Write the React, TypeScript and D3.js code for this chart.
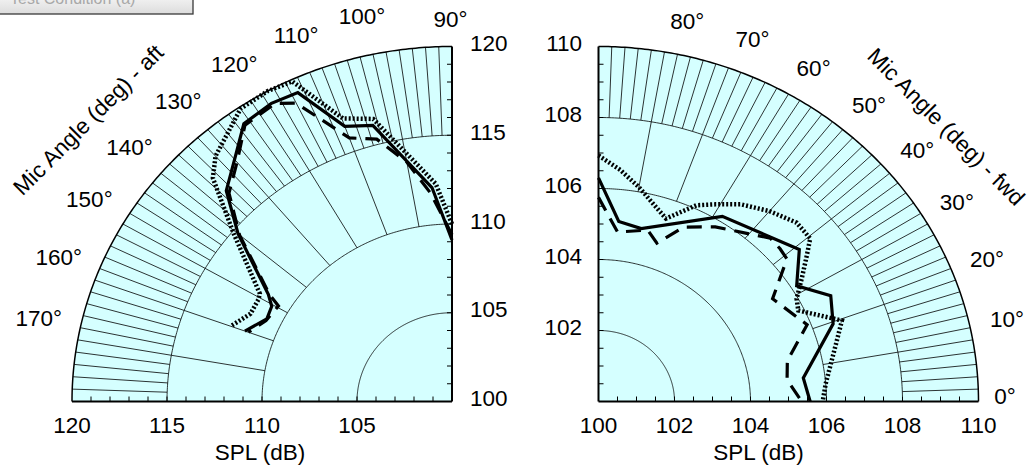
import React from "react";
import * as d3 from "d3";

// ---------------- data ----------------
// Aft quadrant (90°..180°), SPL in dB
const aftSolidAngle = [90, 95, 105, 110, 115, 119.5, 125, 130, 135, 140, 148, 150.5, 154.5, 160];
const aftSolidSPL = [109.1, 112.1, 116.1, 116.5, 119.2, 119.3, 119.1, 117.8, 116.8, 114.7, 111.4, 110.9, 110.8, 111.6];

const aftDashAngle = [90, 95.5, 100, 105, 110, 116, 119, 125, 130, 135, 140, 148, 149.5, 155, 160];
const aftDashSPL = [109.4, 111.8, 113.7, 115.3, 115.8, 118.7, 119.2, 119.0, 117.6, 116.6, 114.6, 111.3, 110.6, 110.8, 111.4];

const aftDotAngle = [90, 94, 104.6, 109.8, 115, 119, 124, 132, 135, 140.5, 149, 150.5, 155, 160];
const aftDotSPL = [110.0, 112.3, 116.45, 116.95, 119.9, 120.0, 119.9, 118.6, 117.8, 114.9, 111.8, 111.7, 111.7, 112.4];

// Forward quadrant (0°..90°)
const fwdSolidAngle = [90, 84, 77, 58, 39, 32, 26, 19.5, 7, 0];
const fwdSolidSPL = [106.3, 105.1, 105.0, 106.15, 106.8, 106.15, 106.8, 106.55, 105.43, 105.57];

const fwdDashAngle = [90, 84, 75, 71, 65.5, 58, 45.5, 42, 39, 32.3, 21.5, 13, 7, 0];
const fwdDashSPL = [105.75, 104.8, 105.0, 104.72, 105.4, 105.8, 106.45, 106.43, 106.38, 105.42, 105.9, 105.1, 105.0, 105.35];

const fwdDotAngle = [90, 85, 80, 71, 65, 61, 56, 50, 44, 39.5, 37, 33, 29, 26, 19.6, 14.6, 4.8, 0];
const fwdDotSPL = [106.93, 106.55, 106.13, 105.45, 106.1, 106.35, 106.7, 107.0, 107.25, 107.22, 106.87, 106.38, 105.96, 105.85, 106.8, 106.46, 106.0, 105.9];

// axes / grid
const aftDomain = [100, 120];
const aftRings = [105, 110, 115];
const aftBottomLabels = [120, 115, 110, 105];
const aftSideLabels = [100, 105, 110, 115, 120];
const aftAngleLabels = [90, 100, 110, 120, 130, 140, 150, 160, 170];

const fwdDomain = [100, 110];
const fwdRings = [102, 104, 106, 108];
const fwdBottomLabels = [100, 102, 104, 106, 108, 110];
const fwdSideLabels = [102, 104, 106, 108, 110];
const fwdAngleLabels = [0, 10, 20, 30, 40, 50, 60, 70, 80];

// ---------------- layout ----------------
const W = 1031;
const H = 474;
const RX = 380;
const RY = 355;
const FONT = "Arial, 'Liberation Sans', Helvetica, sans-serif";
const FS = 22.5;
const FILL = "#d5ffff";

type Series = { angle: number[]; spl: number[]; dash?: string; width: number };

type QProps = {
  side: "left" | "right";
  cx: number;
  cy: number;
  domain: number[];
  rings: number[];
  coarseFrom: number;
  fineFrom: number;
  tickStep: number;
  bottomLabels: number[];
  sideLabels: number[];
  angleLabels: number[];
  series: Series[];
};

const rad = (d: number) => (d * Math.PI) / 180;

function Quadrant(p: QProps) {
  const { side, cx, cy, domain } = p;
  const rs = d3.scaleLinear().domain(domain).range([0, 1]);
  const a0 = side === "right" ? 0 : 90;
  const a1 = side === "right" ? 90 : 180;
  const px = (v: number, a: number) => cx + rs(v) * RX * Math.cos(rad(a));
  const py = (v: number, a: number) => cy - rs(v) * RY * Math.sin(rad(a));

  const arcPath = (v: number) => {
    const pts = d3.range(a0, a1 + 0.001, 0.5);
    return d3
      .line<number>()
      .x((a) => px(v, a))
      .y((a) => py(v, a))(pts) as string;
  };

  const sector = `M${cx},${cy}` + arcPath(domain[1]).replace(/^M/, "L") + "Z";

  const radial = (a: number, from: number, to: number) => (
    <line
      key={`r${a}-${from}`}
      x1={px(from, a)}
      y1={py(from, a)}
      x2={px(to, a)}
      y2={py(to, a)}
      stroke="#000"
      strokeWidth={0.8}
    />
  );

  const fineAngles = d3.range(a0 + 2, a1 - 0.001, 2);
  const coarseAngles = d3.range(a0 + 10, a1 - 0.001, 10);

  const ticks = d3.range(domain[0] + p.tickStep, domain[1] - 0.001, p.tickStep);
  const xAxisAngle = side === "right" ? 0 : 180;
  const dataLine = d3
    .line<[number, number]>()
    .x((d) => px(d[1], d[0]))
    .y((d) => py(d[1], d[0]));

  const labelPos = (th: number) => {
    const alpha = side === "right" ? th : 180 - th;
    let a2: number;
    let R: number;
    if (alpha === 0) {
      a2 = 1;
      R = 1.07;
    } else if (alpha === 90) {
      a2 = 89.8;
      R = 1.08;
    } else {
      a2 = 45 + 0.935 * (alpha - 45);
      R = side === "left" ? 1.113 : 1.1;
    }
    const t2 = side === "right" ? a2 : 180 - a2;
    return [cx + R * RX * Math.cos(rad(t2)), cy - R * RY * Math.sin(rad(t2)) + 1.5];
  };

  const outerX = px(domain[1], xAxisAngle);
  const topY = py(domain[1], 90);

  return (
    <g>
      <path d={sector} fill={FILL} stroke="none" />
      {p.rings.map((v) => (
        <path key={`ring${v}`} d={arcPath(v)} fill="none" stroke="#000" strokeWidth={0.8} />
      ))}
      {fineAngles.map((a) => radial(a, p.fineFrom, domain[1]))}
      {coarseAngles.map((a) => radial(a, p.coarseFrom, p.fineFrom))}
      <path d={arcPath(domain[1])} fill="none" stroke="#000" strokeWidth={1.5} />
      {ticks.map((v) => (
        <line
          key={`tb${v}`}
          x1={px(v, xAxisAngle)}
          y1={cy}
          x2={px(v, xAxisAngle)}
          y2={cy - 5}
          stroke="#000"
          strokeWidth={1}
        />
      ))}
      {ticks.map((v) => (
        <line
          key={`ts${v}`}
          x1={cx}
          y1={py(v, 90)}
          x2={side === "right" ? cx + 5 : cx - 5}
          y2={py(v, 90)}
          stroke="#000"
          strokeWidth={1}
        />
      ))}
      {p.series.map((s, i) => (
        <path
          key={`s${i}`}
          d={dataLine(s.angle.map((a, j) => [a, s.spl[j]] as [number, number])) as string}
          fill="none"
          stroke="#000"
          strokeWidth={s.width}
          strokeDasharray={s.dash}
          strokeLinejoin="miter"
          strokeLinecap="butt"
        />
      ))}
      <line x1={cx} y1={cy} x2={outerX} y2={cy} stroke="#000" strokeWidth={2} />
      <line x1={cx} y1={cy} x2={cx} y2={topY} stroke="#000" strokeWidth={2} />
      {p.bottomLabels.map((v) => (
        <text key={`lb${v}`} x={px(v, xAxisAngle)} y={cy + 31.5} textAnchor="middle" fontSize={FS} fontFamily={FONT}>
          {v}
        </text>
      ))}
      {p.sideLabels.map((v) => (
        <text
          key={`ls${v}`}
          x={side === "right" ? cx - 16.5 : cx + 18}
          y={py(v, 90) - 3}
          textAnchor={side === "right" ? "end" : "start"}
          dominantBaseline="central"
          fontSize={FS}
          fontFamily={FONT}
        >
          {v}
        </text>
      ))}
      {p.angleLabels.map((a) => {
        const [lx, ly] = labelPos(a);
        return (
          <text
            key={`la${a}`}
            x={lx}
            y={ly}
            textAnchor="middle"
            dominantBaseline="central"
            fontSize={FS}
            fontFamily={FONT}
          >
            {`${a}°`}
          </text>
        );
      })}
    </g>
  );
}

export default function App() {
  const solidW = 3.2;
  const dot = "2 2";
  const dash = "15 9";
  const aftSeries: Series[] = [
    { angle: aftDotAngle, spl: aftDotSPL, dash: dot, width: 4.5 },
    { angle: aftDashAngle, spl: aftDashSPL, dash, width: solidW },
    { angle: aftSolidAngle, spl: aftSolidSPL, width: solidW },
  ];
  const fwdSeries: Series[] = [
    { angle: fwdDotAngle, spl: fwdDotSPL, dash: dot, width: 4.5 },
    { angle: fwdDashAngle, spl: fwdDashSPL, dash, width: solidW },
    { angle: fwdSolidAngle, spl: fwdSolidSPL, width: solidW },
  ];
  return (
    <svg
      width={W}
      height={H}
      viewBox={`0 0 ${W} ${H}`}
      style={{ position: "absolute", left: 0, top: 0, background: "#fff" }}
    >
      <defs>
        <clipPath id="boxclip">
          <rect x={0} y={0} width={193} height={15} />
        </clipPath>
        <linearGradient id="boxgrad" x1="0" y1="0" x2="0" y2="1">
          <stop offset="0" stopColor="#f2f2f2" />
          <stop offset="1" stopColor="#dcdcdc" />
        </linearGradient>
      </defs>
      <rect x={-2} y={-2} width={195} height={16} fill="url(#boxgrad)" stroke="#3a3a3a" strokeWidth={1.3} />
      <g clipPath="url(#boxclip)">
        <text x={10} y={4} fontSize={16} fontFamily={FONT} fill="#a8a8a8">
          Test Condition (a)
        </text>
      </g>

      <Quadrant
        side="left"
        cx={452}
        cy={401.5}
        domain={aftDomain}
        rings={aftRings}
        coarseFrom={110}
        fineFrom={115}
        tickStep={1}
        bottomLabels={aftBottomLabels}
        sideLabels={aftSideLabels}
        angleLabels={aftAngleLabels}
        series={aftSeries}
      />
      <Quadrant
        side="right"
        cx={598.5}
        cy={401.5}
        domain={fwdDomain}
        rings={fwdRings}
        coarseFrom={106}
        fineFrom={108}
        tickStep={0.5}
        bottomLabels={fwdBottomLabels}
        sideLabels={fwdSideLabels}
        angleLabels={fwdAngleLabels}
        series={fwdSeries}
      />

      <text x={260} y={460} textAnchor="middle" fontSize={FS} fontFamily={FONT}>
        SPL (dB)
      </text>
      <text x={758.5} y={460} textAnchor="middle" fontSize={FS} fontFamily={FONT}>
        SPL (dB)
      </text>
      <text
        x={88.5}
        y={120}
        textAnchor="middle"
        dominantBaseline="central"
        fontSize={FS}
        fontFamily={FONT}
        transform="rotate(-45 88.5 120)"
      >
        Mic Angle (deg) - aft
      </text>
      <text
        x={946}
        y={127}
        textAnchor="middle"
        dominantBaseline="central"
        fontSize={FS}
        fontFamily={FONT}
        transform="rotate(45 946 127)"
      >
        Mic Angle (deg) - fwd
      </text>
    </svg>
  );
}
